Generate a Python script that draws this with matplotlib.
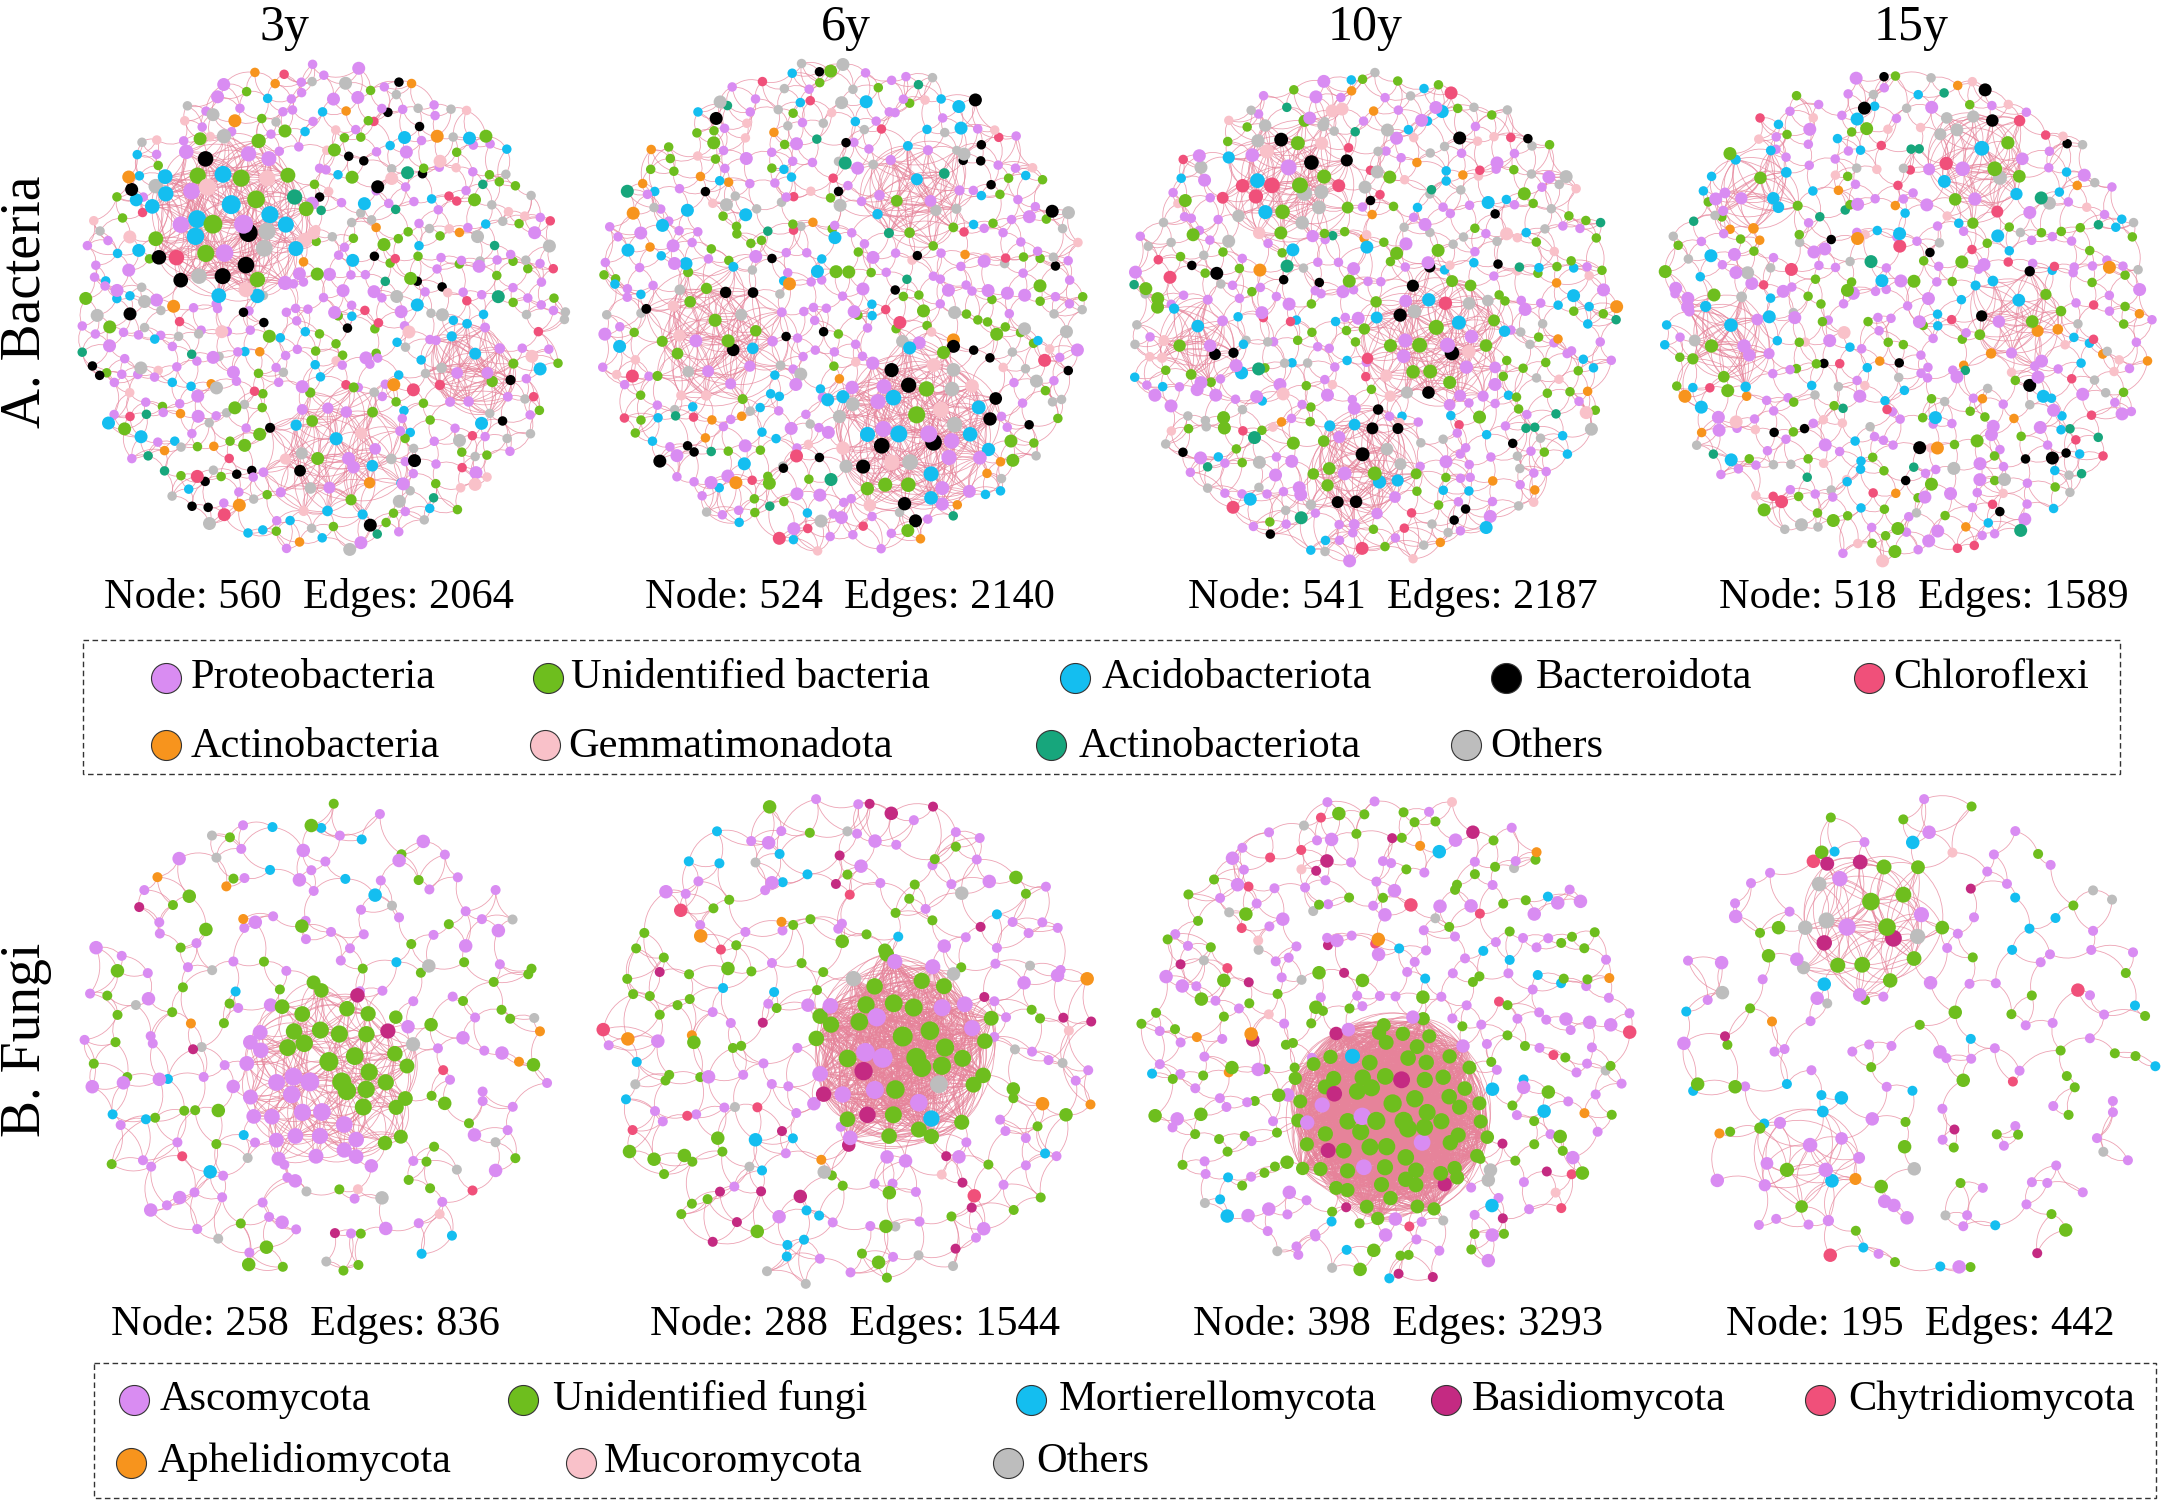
import numpy as np
import matplotlib
matplotlib.use("Agg")
import matplotlib.pyplot as plt
from matplotlib.path import Path
from matplotlib.collections import PathCollection
from matplotlib.patches import Rectangle

plt.rcParams['font.family'] = ['Liberation Serif', 'DejaVu Serif']

# ---------------------------------------------------------------- data
years = ["3y", "6y", "10y", "15y"]

bac_phyla = ["Proteobacteria", "Unidentified bacteria", "Acidobacteriota",
             "Bacteroidota", "Chloroflexi", "Actinobacteria",
             "Gemmatimonadota", "Actinobacteriota", "Others"]
bac_colors = ["#D98CF2", "#6EBE1E", "#14BEF0", "#000000", "#F0507A",
              "#F7941D", "#F9C1C9", "#17A67C", "#BDBDBD"]
bac_nodes = [560, 524, 541, 518]
bac_edges = [2064, 2140, 2187, 1589]
# nodes per phylum (estimated) for 3y, 6y, 10y, 15y
bac_counts_3y = [190, 95, 70, 35, 25, 20, 35, 15, 75]
bac_counts_6y = [175, 95, 65, 40, 20, 20, 30, 14, 65]
bac_counts_10y = [170, 110, 60, 30, 25, 15, 35, 16, 80]
bac_counts_15y = [180, 95, 70, 20, 30, 25, 30, 18, 50]
# hub-module membership per phylum (estimated)
bac_modules_3y = [[8, 10, 12, 6, 1, 0, 4, 1, 5],
                  [10, 6, 6, 2, 0, 1, 3, 0, 4],
                  [8, 2, 3, 1, 1, 0, 0, 0, 3]]
bac_modules_6y = [[12, 6, 10, 8, 0, 0, 6, 0, 8],
                  [6, 10, 2, 4, 0, 0, 4, 0, 4],
                  [6, 4, 3, 0, 0, 0, 0, 2, 4]]
bac_modules_10y = [[3, 7, 3, 3, 5, 0, 3, 0, 8],
                   [10, 12, 4, 5, 2, 0, 3, 0, 4],
                   [5, 6, 4, 6, 0, 0, 0, 0, 3],
                   [3, 3, 2, 2, 0, 0, 2, 0, 0]]
bac_modules_15y = [[4, 5, 3, 1, 3, 0, 0, 0, 5],
                   [5, 3, 3, 0, 0, 0, 0, 0, 2],
                   [3, 4, 3, 2, 0, 3, 0, 0, 0],
                   [3, 2, 5, 0, 0, 1, 0, 0, 0]]

fun_phyla = ["Ascomycota", "Unidentified fungi", "Mortierellomycota",
             "Basidiomycota", "Chytridiomycota", "Aphelidiomycota",
             "Mucoromycota", "Others"]
fun_colors = ["#D98CF2", "#6EBE1E", "#14BEF0", "#C42A82", "#F0507A",
              "#F7941D", "#F9C1C9", "#BDBDBD"]
fun_nodes = [258, 288, 398, 195]
fun_edges = [836, 1544, 3293, 442]
fun_counts_3y = [125, 85, 15, 5, 3, 6, 2, 17]
fun_counts_6y = [105, 100, 22, 25, 8, 8, 2, 18]
fun_counts_10y = [150, 165, 20, 20, 15, 8, 5, 15]
fun_counts_15y = [90, 55, 22, 8, 4, 3, 1, 12]
fun_modules_3y = [[22, 26, 0, 2, 0, 0, 0, 1]]
fun_modules_6y = [[14, 30, 1, 3, 0, 0, 0, 2]]
fun_modules_10y = [[7, 68, 1, 5, 0, 0, 0, 0]]
fun_modules_15y = [[4, 10, 0, 4, 0, 0, 0, 5],
                   [8, 3, 2, 0, 0, 1, 0, 0]]

# ---------------------------------------------------------------- layout (pixels)
W, H = 2174, 1504
# network centre x, y, radius ; module: dx, dy, radius (unit R), hub diameter px, edge share, direction
bac_layout = [
    ((322, 307, 244), [(-0.38, -0.36, 0.36, 20, 0.22, None),
                       (0.05, 0.60, 0.30, 14, 0.10, None),
                       (0.62, 0.25, 0.22, 13, 0.06, None)]),
    ((841, 306, 246), [(0.30, 0.50, 0.36, 18, 0.22, None),
                       (-0.52, 0.12, 0.30, 14, 0.10, None),
                       (0.30, -0.45, 0.25, 13, 0.06, None)]),
    ((1373, 316, 246), [(-0.35, -0.55, 0.27, 17, 0.10, None),
                        (0.25, 0.10, 0.30, 16, 0.14, None),
                        (-0.05, 0.62, 0.25, 15, 0.08, None),
                        (-0.72, 0.10, 0.18, 14, 0.04, None)]),
    ((1906, 316, 246), [(0.30, -0.62, 0.25, 16, 0.08, None),
                        (-0.72, 0.10, 0.20, 15, 0.05, None),
                        (0.45, 0.00, 0.22, 14, 0.05, None),
                        (-0.60, -0.50, 0.18, 14, 0.04, None)]),
]
fun_layout = [
    ((315, 1041, 238), [(0.05, 0.15, 0.40, 20, 0.50, (1.0, -1.0))]),
    ((851, 1040, 248), [(0.20, 0.05, 0.40, 21, 0.60, None)]),
    ((1386, 1038, 245), [(0.02, 0.32, 0.42, 19, 0.80, None)]),
    ((1917, 1042, 243), [(-0.20, -0.50, 0.33, 19, 0.30, None),
                         (-0.45, 0.50, 0.25, 16, 0.12, None)]),
]
bac_base_d = 9.5
fun_base_d = 10.0

GOLD = np.pi * (3 - np.sqrt(5))


def sunflower(n, wobble=0.3):
    i = np.arange(n)
    r = np.sqrt((i + 0.5) / n)
    t = i * GOLD
    p = np.c_[r * np.cos(t), r * np.sin(t)]
    step = np.sqrt(np.pi / max(n, 1)) * wobble
    p[:, 0] += step * np.cos(i * 2.17 + 0.4)
    p[:, 1] += step * np.sin(i * 3.41 + 1.1)
    rr = np.hypot(p[:, 0], p[:, 1])
    over = rr > 1
    p[over] /= rr[over][:, None]
    return p


def interleave(counts):
    keys, cats = [], []
    for c, n in enumerate(counts):
        if n <= 0:
            continue
        keys.append((np.arange(n) + 0.5) / n + 0.0137 * c)
        cats.append(np.full(n, c))
    keys = np.concatenate(keys)
    cats = np.concatenate(cats)
    return cats[np.argsort(keys, kind="stable")]


def build(counts, modules, layout, n_edges, base_d):
    (cx, cy, R), mods = layout
    rem = np.array(counts, dtype=int)
    P, C, S = [], [], []
    groups = []
    start = 0
    for hub, (dx, dy, rad, dmax, share, direc) in zip(modules, mods):
        hc = np.array(hub, dtype=int)
        rem -= hc
        n = int(hc.sum())
        p = sunflower(n, 0.25) * rad
        d = np.hypot(p[:, 0], p[:, 1]) / rad
        if direc is None:
            cats = interleave(hc)
        else:
            order = np.argsort(p @ np.array(direc), kind="stable")
            cats = np.empty(n, int)
            cats[order] = np.repeat(np.arange(len(hc)), hc)
        P.append((p + [dx, dy]) * R + [cx, cy])
        C.append(cats)
        S.append(dmax * (1.0 - 0.3 * d))
        groups.append((np.arange(start, start + n), share))
        start += n
    M = int(rem.sum())
    n = M
    while True:
        p = sunflower(n, 0.35)
        keep = np.ones(n, bool)
        for (dx, dy, rad, *_r) in mods:
            keep &= np.hypot(p[:, 0] - dx, p[:, 1] - dy) > rad * 0.95
        if keep.sum() >= M:
            break
        n += 1
    p = p[keep][:M]
    P.append(p * R + [cx, cy])
    C.append(interleave(rem))
    i = np.arange(M)
    S.append(np.where(i % 5 == 0, base_d + 3.5, base_d))
    P = np.vstack(P)
    C = np.concatenate(C)
    S = np.concatenate(S)

    # edges: dense inside modules, neighbourhood links elsewhere
    edges = set()
    for idx, share in groups:
        nb = int(round(share * n_edges))
        sub = P[idx]
        d = np.hypot(sub[:, None, 0] - sub[None, :, 0], sub[:, None, 1] - sub[None, :, 1])
        iu = np.triu_indices(len(idx), 1)
        order = np.argsort(d[iu], kind="stable")[:nb]
        for o in order:
            edges.add((int(idx[iu[0][o]]), int(idx[iu[1][o]])))
    N = len(P)
    D = np.hypot(P[:, None, 0] - P[None, :, 0], P[:, None, 1] - P[None, :, 1])
    nn = np.argsort(D, axis=1, kind="stable")
    visit = np.argsort((np.arange(N) * 0.6180339887) % 1.0, kind="stable")
    ranks = [1, 2, 3, 5, 4, 8, 6, 12, 7, 18, 9, 26, 10, 40, 11, 60, 13, 14,
             15, 16, 20, 22, 24, 30, 35, 45, 50, 17, 19, 21, 23, 25]
    for rk in ranks:
        if rk >= N or len(edges) >= n_edges:
            break
        for a in visit:
            if len(edges) >= n_edges:
                break
            b = int(nn[a, rk])
            edges.add((min(int(a), b), max(int(a), b)))
    return P, C, S, sorted(edges)


def draw_network(ax, P, C, S, edges, colors):
    paths = []
    for k, (a, b) in enumerate(edges):
        p, q = P[a], P[b]
        v = q - p
        sgn = 1.0 if k % 2 == 0 else -1.0
        ctrl = (p + q) / 2 + sgn * 0.28 * np.array([-v[1], v[0]])
        paths.append(Path([p, ctrl, q], [Path.MOVETO, Path.CURVE3, Path.CURVE3]))
    pc = PathCollection(paths, facecolors="none", edgecolors="#E6839A",
                        linewidths=0.6, alpha=0.75, zorder=1)
    ax.add_collection(pc)
    order = np.argsort(S, kind="stable")
    cols = np.array(colors)[C]
    ax.scatter(P[order, 0], P[order, 1], s=(0.72 * S[order]) ** 2,
               c=list(cols[order]), linewidths=0, zorder=2)


fig = plt.figure(figsize=(W / 100, H / 100), dpi=100)
ax = fig.add_axes([0, 0, 1, 1])
ax.set_xlim(0, W)
ax.set_ylim(H, 0)
ax.axis("off")

bac_counts = [bac_counts_3y, bac_counts_6y, bac_counts_10y, bac_counts_15y]
bac_modules = [bac_modules_3y, bac_modules_6y, bac_modules_10y, bac_modules_15y]
fun_counts = [fun_counts_3y, fun_counts_6y, fun_counts_10y, fun_counts_15y]
fun_modules = [fun_modules_3y, fun_modules_6y, fun_modules_10y, fun_modules_15y]

for k in range(4):
    P, C, S, E = build(bac_counts[k], bac_modules[k], bac_layout[k], bac_edges[k], bac_base_d)
    draw_network(ax, P, C, S, E, bac_colors)
    P, C, S, E = build(fun_counts[k], fun_modules[k], fun_layout[k], fun_edges[k], fun_base_d)
    draw_network(ax, P, C, S, E, fun_colors)

# titles
title_x = [284, 846, 1365, 1911]
for x, t in zip(title_x, years):
    ax.text(x, 40, t, fontsize=36, ha="center", va="baseline", color="black")

ax.text(26, 302, "A. Bacteria", fontsize=40, rotation=90, ha="center", va="center")
ax.text(26, 1040, "B. Fungi", fontsize=40, rotation=90, ha="center", va="center")

bac_text_x = [309, 850, 1393, 1924]
fun_text_x = [305, 855, 1398, 1920]
for k in range(4):
    ax.text(bac_text_x[k], 608, f"Node: {bac_nodes[k]}  Edges: {bac_edges[k]}",
            fontsize=30.5, ha="center", va="baseline")
    ax.text(fun_text_x[k], 1335, f"Node: {fun_nodes[k]}  Edges: {fun_edges[k]}",
            fontsize=30.5, ha="center", va="baseline")

# legends
def legend_box(x0, y0, x1, y1):
    ax.add_patch(Rectangle((x0, y0), x1 - x0, y1 - y0, fill=False,
                           edgecolor="#333333", linestyle=(0, (4, 2.5)),
                           linewidth=1.0, zorder=4))

legend_box(83, 640, 2120, 774)
bac_leg_pos = [(166, 678, 191, 688), (548, 678, 571, 688), (1075, 678, 1102, 688),
               (1506, 678, 1536, 688), (1869, 678, 1893, 688),
               (166, 745, 191, 757), (545, 745, 568, 757), (1051, 745, 1079, 757),
               (1466, 745, 1490, 757)]
for (mx, my, tx, ty), name, col in zip(bac_leg_pos, bac_phyla, bac_colors):
    ax.scatter([mx], [my], s=(0.72 * 30) ** 2, c=col, edgecolors="#333333",
               linewidths=0.8, zorder=5)
    ax.text(tx, ty, name, fontsize=30.5, ha="left", va="baseline", zorder=5)

legend_box(94, 1363, 2156, 1498)
fun_leg_pos = [(134, 1400, 160, 1410), (523, 1400, 553, 1410), (1031, 1400, 1059, 1410),
               (1446, 1400, 1472, 1410), (1820, 1400, 1848, 1410),
               (131, 1463, 158, 1472), (581, 1463, 604, 1472), (1008, 1463, 1036, 1472)]
for (mx, my, tx, ty), name, col in zip(fun_leg_pos, fun_phyla, fun_colors):
    ax.scatter([mx], [my], s=(0.72 * 30) ** 2, c=col, edgecolors="#333333",
               linewidths=0.8, zorder=5)
    ax.text(tx, ty, name, fontsize=30.5, ha="left", va="baseline", zorder=5)

fig.savefig("out.png", dpi=100, facecolor="white")
